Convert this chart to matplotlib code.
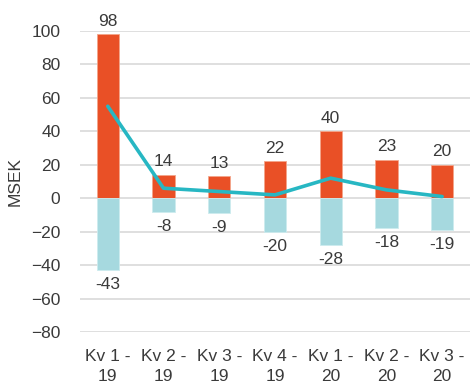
import matplotlib
matplotlib.use("Agg")
import matplotlib.pyplot as plt
import numpy as np

quarters = ["Kv 1 -\n19", "Kv 2 -\n19", "Kv 3 -\n19", "Kv 4 -\n19",
            "Kv 1 -\n20", "Kv 2 -\n20", "Kv 3 -\n20"]
inflow = [98, 14, 13, 22, 40, 23, 20]
outflow = [-43, -8, -9, -20, -28, -18, -19]
net = [a + b for a, b in zip(inflow, outflow)]

RED = "#E95026"
LIGHT = "#A6D9DF"
TEAL = "#27B7C3"
TXT = "#3A3A3A"
GRID = "#D9D9D9"
FS = 12.5

plt.rcParams["font.family"] = ["Liberation Sans", "DejaVu Sans"]

fig = plt.figure(figsize=(4.7, 3.87), dpi=100)
ax = fig.add_axes([0.170, 0.142, 0.830, 0.778])

x = np.arange(len(quarters))
ax.bar(x, inflow, width=0.4, color=RED, edgecolor="#F3A58A", lw=0.6, zorder=2)
ax.bar(x, outflow, width=0.4, color=LIGHT, edgecolor="#CDEBEE", lw=0.6, zorder=2)
ax.plot(x, net, color=TEAL, lw=2.6, zorder=3, solid_capstyle="round")

for xi, v in zip(x, inflow):
    ax.annotate(f"{v}", (xi, v), xytext=(0, 4), textcoords="offset points",
                ha="center", va="bottom", fontsize=FS, color=TXT)
for xi, v in zip(x, outflow):
    ax.annotate(f"{v}", (xi, v), xytext=(0, -5), textcoords="offset points",
                ha="center", va="top", fontsize=FS, color=TXT)

ax.set_xlim(-0.5, len(quarters) - 0.5)
ax.set_ylim(-80, 100)
ax.set_yticks(range(-80, 101, 20))
ax.set_xticks(x)
ax.set_xticklabels(quarters, fontsize=FS, color=TXT, linespacing=1.4)
ax.tick_params(axis="y", labelsize=FS, labelcolor=TXT, length=0, pad=14)
ax.tick_params(axis="x", length=0, pad=12)
ax.grid(axis="y", color=GRID, lw=1.2, zorder=0)
ax.set_axisbelow(True)
for s in ax.spines.values():
    s.set_visible(False)
ax.set_ylabel("MSEK", fontsize=FS, color=TXT, labelpad=6)

fig.savefig("out.png", dpi=100)
